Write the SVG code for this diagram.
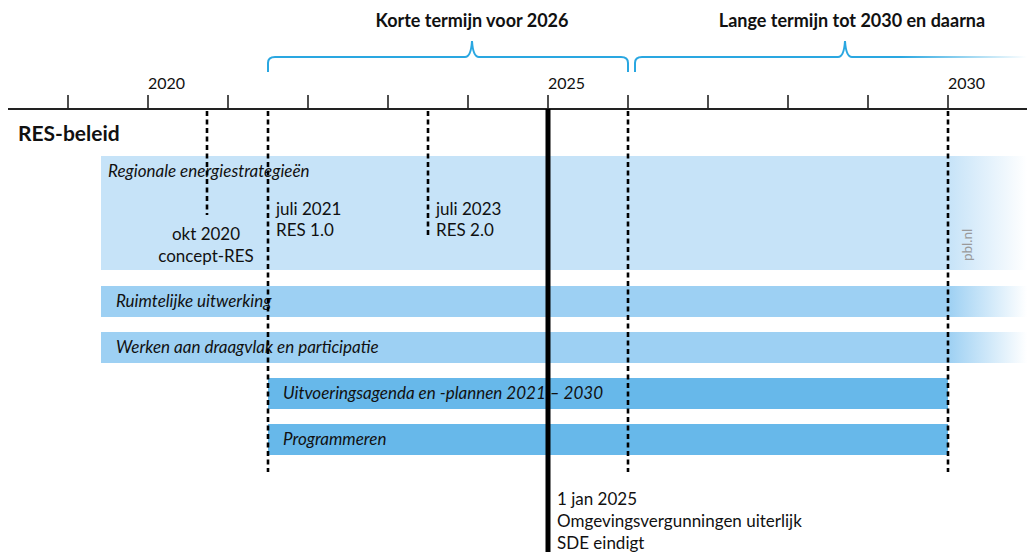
<svg xmlns="http://www.w3.org/2000/svg" width="1027" height="557" viewBox="0 0 1027 557">
<style>
text{font-family:Lato,"Open Sans","Liberation Sans",sans-serif;fill:#111}
.b{font-weight:bold}
.it{font-style:italic;font-size:17px}
.yr{font-size:16px}
.lbl{font-size:17px}
.ttl{font-size:18px;font-weight:bold}
.dash{stroke:#000;stroke-width:2.6;stroke-dasharray:5 3.5;fill:none}
.tick{stroke:#222;stroke-width:1.6}
.brace{stroke:#2aa7e1;stroke-width:2;fill:none}
</style>
<defs>
<linearGradient id="g1" x1="0" x2="1" y1="0" y2="0"><stop offset="0" stop-color="#c6e3f8"/><stop offset="1" stop-color="#c6e3f8" stop-opacity="0"/></linearGradient>
<linearGradient id="g2" x1="0" x2="1" y1="0" y2="0"><stop offset="0" stop-color="#9dd0f3"/><stop offset="1" stop-color="#9dd0f3" stop-opacity="0"/></linearGradient>
<linearGradient id="gb" gradientUnits="userSpaceOnUse" x1="900" x2="1027" y1="0" y2="0"><stop offset="0" stop-color="#2aa7e1"/><stop offset="1" stop-color="#2aa7e1" stop-opacity="0"/></linearGradient>
</defs>

<g id="axis">
<line x1="8" y1="109" x2="1027" y2="109" stroke="#222" stroke-width="2.2"/>
<g class="tick">
<line x1="68" y1="95" x2="68" y2="109"/><line x1="148" y1="95" x2="148" y2="109"/><line x1="228" y1="95" x2="228" y2="109"/><line x1="308" y1="95" x2="308" y2="109"/><line x1="388" y1="95" x2="388" y2="109"/><line x1="468" y1="95" x2="468" y2="109"/><line x1="548" y1="95" x2="548" y2="109"/><line x1="628" y1="95" x2="628" y2="109"/><line x1="708" y1="95" x2="708" y2="109"/><line x1="788" y1="95" x2="788" y2="109"/><line x1="868" y1="95" x2="868" y2="109"/><line x1="948" y1="95" x2="948" y2="109"/>
</g>
<text class="yr" x="148" y="89">2020</text>
<text class="yr" x="548" y="89">2025</text>
<text class="yr" x="948" y="89">2030</text>
</g>

<g id="short-term">
<path class="brace" d="M268,72 V63 Q268,57 275,57 H465 Q471,57 472,41 Q473,57 479,57 H621 Q628,57 628,63 V72"/>
<text class="ttl" x="472" y="27" text-anchor="middle">Korte termijn voor 2026</text>
</g>
<g id="long-term">
<path d="M635,72 V63 Q635,57 642,57 H838 Q844,57 845,41 Q846,57 852,57 H1027" stroke="url(#gb)" stroke-width="2" fill="none"/>
<text class="ttl" x="852" y="27" text-anchor="middle">Lange termijn tot 2030 en daarna</text>
</g>

<text id="res-beleid" class="b" x="18" y="141" font-size="21">RES-beleid</text>

<g id="band-res">
<rect x="101" y="156" width="847" height="114" fill="#c6e3f8"/>
<rect x="948" y="156" width="79" height="114" fill="url(#g1)"/>
<text class="it" x="108" y="177">Regionale energiestrategieën</text>
</g>
<g id="band-ruimtelijk">
<rect x="101" y="286" width="847" height="31" fill="#9dd0f3"/>
<rect x="948" y="286" width="79" height="31" fill="url(#g2)"/>
<text class="it" x="116" y="307">Ruimtelijke uitwerking</text>
</g>
<g id="band-draagvlak">
<rect x="101" y="332" width="847" height="31" fill="#9dd0f3"/>
<rect x="948" y="332" width="79" height="31" fill="url(#g2)"/>
<text class="it" x="116" y="353">Werken aan draagvlak en participatie</text>
</g>
<g id="band-uitvoering">
<rect x="268" y="378" width="680" height="31" fill="#67b8ea"/>
<text class="it" x="283" y="399">Uitvoeringsagenda en -plannen 2021 – 2030</text>
</g>
<g id="band-programmeren">
<rect x="268" y="424" width="680" height="31" fill="#67b8ea"/>
<text class="it" x="283" y="445">Programmeren</text>
</g>

<g id="connectors">
<line class="dash" x1="207" y1="111" x2="207" y2="215"/>
<line class="dash" x1="268" y1="111" x2="268" y2="472"/>
<line class="dash" x1="428" y1="111" x2="428" y2="237"/>
<line class="dash" x1="628" y1="111" x2="628" y2="472"/>
<line class="dash" x1="948" y1="111" x2="948" y2="472"/>
<line x1="548" y1="109" x2="548" y2="552" stroke="#000" stroke-width="5"/>
</g>

<g id="milestone-okt2020">
<text class="lbl" x="206" y="240" text-anchor="middle">okt 2020</text>
<text class="lbl" x="206" y="262" text-anchor="middle">concept-RES</text>
</g>
<g id="milestone-juli2021">
<text class="lbl" x="276" y="215">juli 2021</text>
<text class="lbl" x="276" y="236">RES 1.0</text>
</g>
<g id="milestone-juli2023">
<text class="lbl" x="436" y="215">juli 2023</text>
<text class="lbl" x="436" y="236">RES 2.0</text>
</g>
<g id="milestone-2025">
<text class="lbl" x="557" y="505">1 jan 2025</text>
<text class="lbl" x="557" y="527">Omgevingsvergunningen uiterlijk</text>
<text class="lbl" x="557" y="549">SDE eindigt</text>
</g>
<text id="credit" transform="translate(972,245) rotate(-90)" text-anchor="middle" font-size="13.5" style="fill:#9a9a9a">pbl.nl</text>
</svg>
